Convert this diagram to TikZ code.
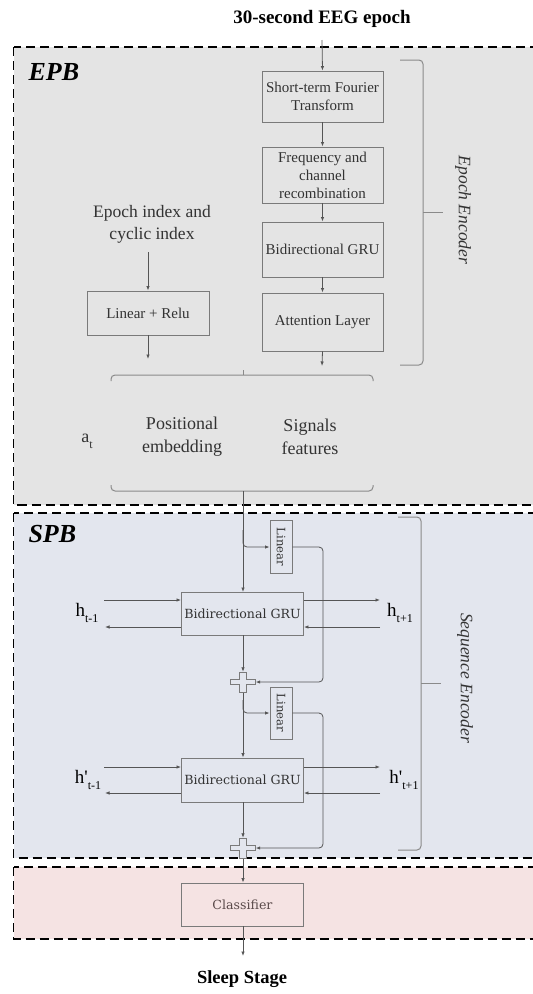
\documentclass[tikz,border=0pt]{standalone}
\usepackage{fontspec}
\setmainfont{Liberation Serif}
\newfontfamily\dvs{DejaVu Serif}
\usetikzlibrary{arrows.meta}
\definecolor{epbfill}{HTML}{E4E4E4}
\definecolor{spbfill}{HTML}{E3E6EE}
\definecolor{clsfill}{HTML}{F5E3E3}
\definecolor{boxc}{HTML}{7A7A7A}
\definecolor{linec}{HTML}{555555}
\definecolor{bracec}{HTML}{8A8A8A}
\definecolor{txtc}{HTML}{333333}
\definecolor{clstxt}{HTML}{5A4A4A}
\tikzset{
  panel/.style={draw=black, line width=1.6pt, dash pattern=on 9pt off 5pt},
  box/.style={draw=boxc, line width=0.9pt, text=txtc, align=center, inner sep=1pt,
              font=\fontsize{15}{18}\selectfont},
  sbox/.style={box, font=\dvs\fontsize{12.6}{15}\selectfont},
  conn/.style={draw=linec, line width=0.8pt, -{Latex[length=4.5pt,width=3.5pt]}},
  plain/.style={draw=linec, line width=0.8pt},
  bracep/.style={draw=bracec, line width=1pt, rounded corners=4pt},
  lbl/.style={text=txtc, align=center, font=\fontsize{18}{23}\selectfont},
  hlbl/.style={text=black, font=\fontsize{19}{20}\selectfont},
  crossp/.style={draw=boxc, line width=0.8pt, fill=spbfill},
}
\newcommand{\hsub}[1]{\raisebox{-0.35em}{\fontsize{12}{12}\selectfont #1}}
\newcommand{\crossat}[1]{%
  \draw[crossp] ([shift={(-3.5,-10)}]#1.center) -- ([shift={(3.5,-10)}]#1.center) -- ([shift={(3.5,-2.5)}]#1.center)
   -- ([shift={(12.5,-2.5)}]#1.center) -- ([shift={(12.5,2.5)}]#1.center) -- ([shift={(3.5,2.5)}]#1.center)
   -- ([shift={(3.5,10)}]#1.center) -- ([shift={(-3.5,10)}]#1.center) -- ([shift={(-3.5,2.5)}]#1.center)
   -- ([shift={(-12.5,2.5)}]#1.center) -- ([shift={(-12.5,-2.5)}]#1.center) -- ([shift={(-3.5,-2.5)}]#1.center) -- cycle;}
\begin{document}
\begin{tikzpicture}[x=1pt,y=-1pt]
\clip (0,0) rectangle (533,994);
\fill[white] (0,0) rectangle (533,994);
% panels
\draw[panel, fill=epbfill] (13.5,47) rectangle (560,505);
\draw[panel, fill=spbfill] (13.5,513) rectangle (560,858);
\draw[panel, fill=clsfill] (13.5,867) rectangle (560,939);
\node[anchor=west, font=\bfseries\itshape\fontsize{26}{26}\selectfont] (epb) at (25,72) {EPB};
\node[anchor=west, font=\bfseries\itshape\fontsize{26}{26}\selectfont] (spb) at (25,534) {SPB};
% title
\node[font=\bfseries\fontsize{19}{20}\selectfont] (title) at (322,19) {30-second EEG epoch};
\coordinate (tin) at (322,40);
% EPB boxes
\node[box, minimum width=121pt, minimum height=51pt] (stft) at (322.5,96.5) {Short-term Fourier\\Transform};
\node[box, minimum width=121pt, minimum height=56pt] (freq) at (322.5,175) {Frequency and\\channel\\recombination};
\node[box, minimum width=121pt, minimum height=55pt] (gru0) at (322.5,249.5) {Bidirectional GRU};
\node[box, minimum width=121pt, minimum height=58pt] (att) at (322.5,322) {Attention Layer};
\node[box, minimum width=122pt, minimum height=44pt] (lin0) at (148,313) {Linear + Relu};
\node[lbl, font=\fontsize{17.5}{22}\selectfont] (idx) at (152,224) {Epoch index and\\cyclic index};
\coordinate (attout) at (322,366);
\coordinate (lin0out) at (148,359);
\draw[conn] (tin) -- (stft.north);
\draw[conn] (stft) -- (freq);
\draw[conn] (freq) -- (gru0);
\draw[conn] (gru0) -- (att);
\draw[conn] (att.south) -- (attout);
\draw[conn] ([yshift=-6pt]idx.south -| lin0.north) -- (lin0.north);
\draw[conn] (lin0.south) -- (lin0out);
% horizontal braces
\draw[bracep] (111,381) -- (111,375) -- (373,375) -- (373,381);
\draw[draw=bracec, line width=1pt] (243,375) -- (243,370);
\draw[bracep] (111,485) -- (111,491) -- (373,491) -- (373,485);
\coordinate (bt) at (243,491);
\node[lbl] (at) at (87,441) {a\hsub{t}};
\node[lbl] (pos) at (182,437) {Positional\\embedding};
\node[lbl] (sig) at (310,437) {Signals\\features};
% epoch encoder brace
\draw[bracep] (400,60) -- (423,60) -- (423,365) -- (400,365);
\draw[draw=bracec, line width=1pt] (423,212) -- (443,212);
\node[rotate=-90, text=txtc, font=\itshape\fontsize{17.5}{18}\selectfont] (ee) at (463,210) {Epoch Encoder};
% SPB
\node[sbox, minimum width=122pt, minimum height=43pt] (gru1) at (242.5,613.5) {Bidirectional GRU};
\node[sbox, minimum width=22pt, minimum height=53pt, inner sep=0pt] (lin1) at (281,547) {};
\node[rotate=-90, text=txtc, font=\dvs\fontsize{11.6}{12}\selectfont] at (lin1) {Linear};
\node[minimum width=25pt, minimum height=20pt, inner sep=0pt] (p1) at (243,682) {};
\node[sbox, minimum width=122pt, minimum height=44pt] (gru2) at (242.5,780) {Bidirectional GRU};
\node[sbox, minimum width=22pt, minimum height=52pt, inner sep=0pt] (lin2) at (281,713) {};
\node[rotate=-90, text=txtc, font=\dvs\fontsize{11.6}{12}\selectfont] at (lin2) {Linear};
\node[minimum width=25pt, minimum height=20pt, inner sep=0pt] (p2) at (243,848) {};
\node[sbox, minimum width=122pt, minimum height=43pt, text=clstxt] (cls) at (242.5,904.5) {Classifier};
\node[font=\bfseries\fontsize{18.5}{20}\selectfont] (ss) at (242,979) {Sleep Stage};
\coordinate (clsout) at (243,956);
% main flow
\draw[conn] (bt) -- (243,592);
\draw[conn, rounded corners=4pt] (243,530) -- (243,547) -- (lin1.west);
\draw[conn, rounded corners=4pt] (lin1.east) -- (323,547) -- (323,682) -- (p1.east);
\draw[conn] (gru1.south -| p1.north) -- (p1.north);
\draw[conn] (p1.south) -- (gru2.north -| p1.south);
\draw[conn, rounded corners=4pt] (243,700) -- (243,713) -- (lin2.west);
\draw[conn, rounded corners=4pt] (lin2.east) -- (323,713) -- (323,848) -- (p2.east);
\draw[conn] (gru2.south -| p2.north) -- (p2.north);
\draw[conn] (p2.south) -- (cls.north -| p2.south);
\crossat{p1}
\crossat{p2}
\draw[conn] (cls.south -| clsout) -- (clsout);
% hidden state arrows
\coordinate (l1a) at (104,600); \coordinate (l1b) at (105,627);
\coordinate (r1a) at (380,600); \coordinate (r1b) at (380,627);
\draw[conn] (l1a) -- (l1a -| gru1.west) ;
\draw[conn] (gru1.west |- l1b) -- (l1b);
\draw[conn] (gru1.east |- r1a) -- (r1a);
\draw[conn] (r1b) -- (gru1.east |- r1b);
\coordinate (l2a) at (104,767); \coordinate (l2b) at (105,793);
\coordinate (r2a) at (380,767); \coordinate (r2b) at (380,793);
\draw[conn] (l2a) -- (l2a -| gru2.west) ;
\draw[conn] (gru2.west |- l2b) -- (l2b);
\draw[conn] (gru2.east |- r2a) -- (r2a);
\draw[conn] (r2b) -- (gru2.east |- r2b);
\node[hlbl] (h1) at (87,613) {h\hsub{t-1}};
\node[hlbl] (h2) at (400,613) {h\hsub{t+1}};
\node[hlbl] (h3) at (88,780) {h\textquotesingle\hsub{t-1}};
\node[hlbl] (h4) at (404,780) {h\textquotesingle\hsub{t+1}};
% sequence encoder brace
\draw[bracep] (398,517) -- (421,517) -- (421,850) -- (398,850);
\draw[draw=bracec, line width=1pt] (421,683) -- (441,683);
\node[rotate=-90, text=txtc, font=\itshape\fontsize{17.5}{18}\selectfont] (se) at (465,678) {Sequence Encoder};
\end{tikzpicture}
\end{document}
